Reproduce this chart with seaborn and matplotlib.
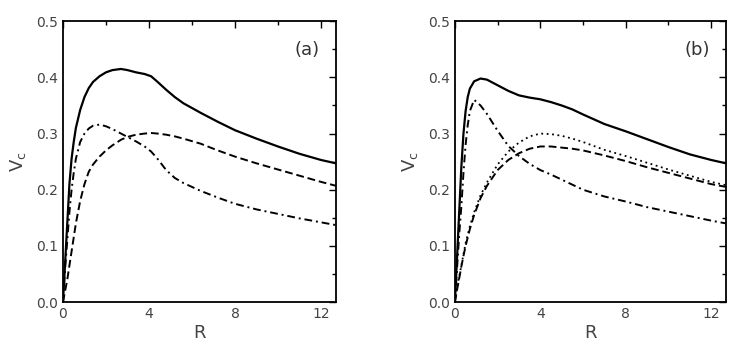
import seaborn as sns
import matplotlib.pyplot as plt
import pandas as pd
from matplotlib.ticker import MultipleLocator

# Rotation curves (R, Vc)
r_a = [0.0, 0.1, 0.2, 0.3, 0.4, 0.5, 0.6, 0.8, 1.0, 1.2, 1.4, 1.7, 2.0, 2.3, 2.7, 3.0, 3.4, 3.8, 4.1, 4.4, 4.8, 5.2, 5.6, 6.4, 7.2, 8.0, 9.0, 10.0, 11.0, 12.0, 12.7]
solid_a = [0.0, 0.07, 0.14, 0.21, 0.255, 0.285, 0.31, 0.342, 0.365, 0.381, 0.392, 0.402, 0.409, 0.413, 0.415, 0.413, 0.409, 0.406, 0.402, 0.392, 0.378, 0.365, 0.354, 0.337, 0.321, 0.306, 0.291, 0.277, 0.264, 0.253, 0.247]
dashdot_a = [0.0, 0.06, 0.11, 0.16, 0.2, 0.23, 0.255, 0.285, 0.3, 0.309, 0.314, 0.316, 0.313, 0.308, 0.3, 0.294, 0.286, 0.277, 0.268, 0.255, 0.235, 0.221, 0.212, 0.198, 0.186, 0.175, 0.165, 0.157, 0.149, 0.142, 0.137]
dashed_a = [0.0, 0.02, 0.04, 0.065, 0.09, 0.115, 0.14, 0.18, 0.21, 0.232, 0.245, 0.259, 0.27, 0.279, 0.289, 0.294, 0.298, 0.3, 0.301, 0.3, 0.298, 0.295, 0.291, 0.282, 0.27, 0.259, 0.247, 0.236, 0.225, 0.214, 0.207]

r_b = [0.0, 0.1, 0.2, 0.3, 0.4, 0.5, 0.6, 0.7, 0.9, 1.2, 1.5, 2.0, 2.5, 3.0, 3.5, 4.0, 4.5, 5.0, 5.5, 6.0, 7.0, 8.0, 9.0, 10.0, 11.0, 12.0, 12.7]
solid_b = [0.0, 0.08, 0.16, 0.24, 0.3, 0.34, 0.365, 0.38, 0.393, 0.398, 0.396, 0.386, 0.376, 0.368, 0.364, 0.361, 0.356, 0.35, 0.343, 0.334, 0.317, 0.304, 0.29, 0.276, 0.263, 0.253, 0.247]
dashdot_b = [0.0, 0.06, 0.12, 0.17, 0.23, 0.28, 0.315, 0.34, 0.36, 0.35, 0.335, 0.305, 0.278, 0.26, 0.246, 0.235, 0.227, 0.218, 0.209, 0.2, 0.188, 0.179, 0.169, 0.161, 0.153, 0.145, 0.14]
dotted_b = [0.0, 0.025, 0.045, 0.065, 0.085, 0.105, 0.12, 0.135, 0.16, 0.19, 0.213, 0.245, 0.268, 0.284, 0.295, 0.3, 0.299, 0.296, 0.291, 0.285, 0.271, 0.26, 0.248, 0.236, 0.225, 0.214, 0.208]
dashed_b = [0.0, 0.022, 0.042, 0.063, 0.082, 0.1, 0.115, 0.13, 0.155, 0.185, 0.207, 0.235, 0.253, 0.265, 0.273, 0.277, 0.277, 0.275, 0.273, 0.27, 0.261, 0.251, 0.24, 0.23, 0.22, 0.21, 0.205]

panel_labels = ['(a)', '(b)']

sns.set_theme(style='white')
plt.rcParams['font.family'] = ['DejaVu Sans']
plt.rcParams['mathtext.default'] = 'regular'

fig = plt.figure(figsize=(7.47, 3.48), dpi=100)
ax_a = fig.add_axes([0.0843, 0.132, 0.3655, 0.807])
ax_b = fig.add_axes([0.609, 0.132, 0.363, 0.807])

df_a = pd.DataFrame({'R': r_a, 'solid': solid_a, 'dashdot': dashdot_a, 'dashed': dashed_a})
df_b = pd.DataFrame({'R': r_b, 'solid': solid_b, 'dashdot': dashdot_b, 'dotted': dotted_b, 'dashed': dashed_b})

styles = {'solid': dict(linestyle='-', linewidth=1.6),
          'dashdot': dict(linestyle=(0, (4, 2, 1, 2)), linewidth=1.4),
          'dashed': dict(linestyle=(0, (4, 2)), linewidth=1.4),
          'dotted': dict(linestyle=(0, (1, 2)), linewidth=1.3)}

for ax, df, label in [(ax_a, df_a, panel_labels[0]), (ax_b, df_b, panel_labels[1])]:
    for col in df.columns[1:]:
        sns.lineplot(data=df, x='R', y=col, ax=ax, color='black', **styles[col])
    ax.set_xlim(0, 12.7)
    ax.set_ylim(0, 0.5)
    ax.xaxis.set_major_locator(MultipleLocator(4))
    ax.xaxis.set_minor_locator(MultipleLocator(2))
    ax.yaxis.set_major_locator(MultipleLocator(0.1))
    ax.yaxis.set_minor_locator(MultipleLocator(0.05))
    ax.yaxis.set_major_formatter(plt.FormatStrFormatter('%.1f'))
    ax.tick_params(which='both', direction='in', top=True, right=True, colors='black',
                   labelcolor='#444444', labelsize=10)
    ax.tick_params(which='major', length=5, width=1)
    ax.tick_params(which='minor', length=3, width=1)
    for s in ax.spines.values():
        s.set_color('black')
        s.set_linewidth(1.3)
    ax.set_xlabel('R', fontsize=13, color='#444444', labelpad=2)
    ax.set_ylabel('V$_c$', fontsize=13, color='#444444', labelpad=6)
    ax.text(0.94, 0.93, label, transform=ax.transAxes, ha='right', va='top',
            fontsize=13, color='#333333')

fig.savefig('out.png', dpi=100)
